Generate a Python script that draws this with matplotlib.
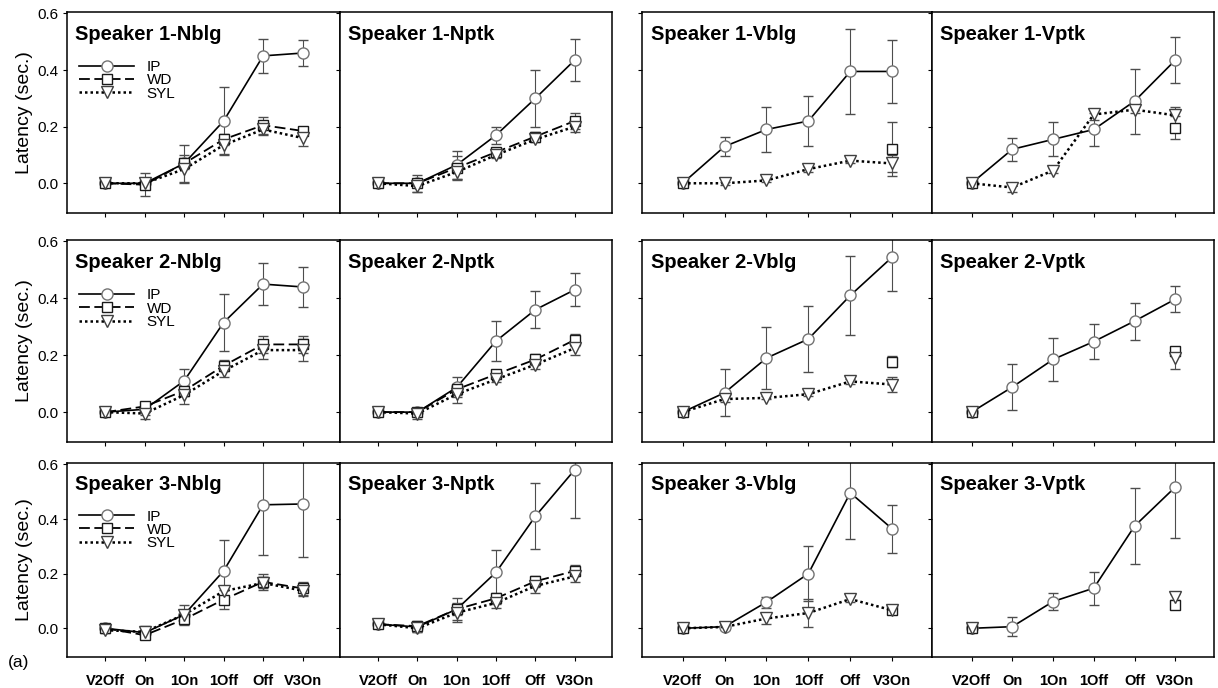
import numpy as np
import matplotlib
matplotlib.use("Agg")
import matplotlib.pyplot as plt
from matplotlib.lines import Line2D

plt.rcParams['font.family'] = ['Liberation Sans', 'DejaVu Sans']

nan = np.nan
categories = ["V2Off", "On", "1On", "1Off", "Off", "V3On"]
series_names = ["IP", "WD", "SYL"]
panel_titles = [
    "Speaker 1-Nblg", "Speaker 1-Nptk", "Speaker 1-Vblg", "Speaker 1-Vptk",
    "Speaker 2-Nblg", "Speaker 2-Nptk", "Speaker 2-Vblg", "Speaker 2-Vptk",
    "Speaker 3-Nblg", "Speaker 3-Nptk", "Speaker 3-Vblg", "Speaker 3-Vptk",
]
y_ticks = [0.0, 0.2, 0.4, 0.6]

ip_mean = [
    [0.0, 0.0, 0.07, 0.22, 0.45, 0.46],
    [0.0, 0.0, 0.065, 0.17, 0.30, 0.435],
    [0.0, 0.13, 0.19, 0.22, 0.395, 0.395],
    [0.0, 0.12, 0.155, 0.19, 0.29, 0.435],
    [0.0, 0.01, 0.11, 0.315, 0.45, 0.44],
    [0.0, 0.0, 0.087, 0.25, 0.36, 0.43],
    [0.0, 0.068, 0.19, 0.257, 0.41, 0.545],
    [0.0, 0.088, 0.185, 0.248, 0.32, 0.397],
    [0.0, -0.016, 0.05, 0.21, 0.452, 0.455],
    [0.015, 0.005, 0.07, 0.205, 0.41, 0.58],
    [0.0, 0.006, 0.096, 0.2, 0.496, 0.364],
    [0.0, 0.006, 0.098, 0.147, 0.374, 0.517],
]
ip_err = [
    [0.005, 0.01, 0.065, 0.12, 0.06, 0.045],
    [0.005, 0.01, 0.05, 0.03, 0.10, 0.075],
    [0.005, 0.035, 0.08, 0.09, 0.15, 0.11],
    [0.005, 0.04, 0.06, 0.06, 0.115, 0.08],
    [0.005, 0.02, 0.04, 0.10, 0.075, 0.07],
    [0.005, 0.01, 0.035, 0.07, 0.065, 0.058],
    [0.005, 0.083, 0.11, 0.115, 0.14, 0.12],
    [0.005, 0.08, 0.075, 0.06, 0.065, 0.045],
    [0.005, 0.01, 0.035, 0.115, 0.185, 0.195],
    [0.005, 0.01, 0.04, 0.08, 0.12, 0.175],
    [0.005, 0.01, 0.02, 0.10, 0.17, 0.088],
    [0.005, 0.035, 0.03, 0.06, 0.14, 0.185],
]
wd_mean = [
    [0.0, -0.005, 0.07, 0.155, 0.205, 0.185],
    [0.0, 0.0, 0.055, 0.11, 0.165, 0.22],
    [0.0, nan, nan, nan, nan, 0.12],
    [0.0, nan, nan, nan, nan, 0.196],
    [0.0, 0.02, 0.075, 0.163, 0.238, 0.238],
    [0.0, 0.0, 0.08, 0.133, 0.185, 0.254],
    [0.0, nan, nan, nan, nan, 0.177],
    [0.0, nan, nan, nan, nan, 0.214],
    [0.0, -0.025, 0.033, 0.105, 0.17, 0.146],
    [0.015, 0.008, 0.07, 0.11, 0.172, 0.21],
    [0.0, nan, nan, nan, nan, 0.066],
    [0.0, nan, nan, nan, nan, 0.087],
]
wd_err = [
    [0.005, 0.04, 0.02, 0.02, 0.03, 0.015],
    [0.005, 0.03, 0.04, 0.01, 0.015, 0.03],
    [0.005, nan, nan, nan, nan, 0.095],
    [0.005, nan, nan, nan, nan, 0.04],
    [0.005, 0.015, 0.02, 0.02, 0.03, 0.03],
    [0.005, 0.015, 0.02, 0.015, 0.02, 0.02],
    [0.005, nan, nan, nan, nan, 0.02],
    [0.005, nan, nan, nan, nan, 0.015],
    [0.01, 0.01, 0.02, 0.035, 0.03, 0.025],
    [0.005, 0.02, 0.02, 0.02, 0.02, 0.02],
    [0.005, nan, nan, nan, nan, 0.005],
    [0.005, nan, nan, nan, nan, 0.01],
]
syl_mean = [
    [0.0, 0.0, 0.05, 0.135, 0.19, 0.16],
    [0.0, -0.01, 0.04, 0.10, 0.155, 0.20],
    [0.0, 0.0, 0.01, 0.05, 0.08, 0.07],
    [0.0, -0.015, 0.045, 0.243, 0.26, 0.24],
    [0.0, -0.005, 0.06, 0.145, 0.218, 0.218],
    [0.0, -0.005, 0.063, 0.115, 0.167, 0.225],
    [0.0, 0.046, 0.05, 0.063, 0.108, 0.097],
    [0.0, nan, nan, nan, nan, 0.19],
    [-0.007, -0.013, 0.05, 0.136, 0.166, 0.138],
    [0.015, 0.0, 0.057, 0.093, 0.155, 0.19],
    [0.0, 0.005, 0.036, 0.056, 0.107, 0.066],
    [0.0, nan, nan, nan, nan, 0.114],
]
syl_err = [
    [0.005, 0.01, 0.05, 0.03, 0.02, 0.03],
    [0.005, 0.02, 0.03, 0.01, 0.01, 0.02],
    [0.005, 0.005, 0.005, 0.01, 0.01, 0.03],
    [0.005, 0.015, 0.01, 0.02, 0.01, 0.03],
    [0.005, 0.02, 0.03, 0.02, 0.03, 0.04],
    [0.005, 0.02, 0.03, 0.01, 0.015, 0.025],
    [0.005, 0.01, 0.005, 0.005, 0.01, 0.025],
    [0.005, nan, nan, nan, nan, 0.04],
    [0.01, 0.02, 0.015, 0.02, 0.02, 0.02],
    [0.005, 0.015, 0.035, 0.02, 0.025, 0.02],
    [0.005, 0.01, 0.02, 0.05, 0.01, 0.005],
    [0.005, nan, nan, nan, nan, 0.01],
]

W, H = 1218, 688
fig = plt.figure(figsize=(W / 100, H / 100), dpi=100)

col_px = [(67, 340), (340, 612), (642, 932), (932, 1214)]
row_px = [(12, 213), (240, 442), (463, 657)]

styles = {
    "IP": dict(color="black", linestyle="-", lw=1.2, marker="o", ms=8,
               mfc="white", mec="0.45", mew=1.0),
    "WD": dict(color="black", linestyle=(0, (6, 2.5)), lw=1.3, marker="s", ms=7,
               mfc="white", mec="0.1", mew=1.0),
    "SYL": dict(color="black", linestyle=(0, (1, 1.2)), lw=1.8, marker="v", ms=8,
                mfc="white", mec="0.25", mew=1.0),
}
data = {
    "IP": (ip_mean, ip_err),
    "WD": (wd_mean, wd_err),
    "SYL": (syl_mean, syl_err),
}

x = np.arange(len(categories))
for r in range(3):
    for c in range(4):
        i = r * 4 + c
        l, rt = col_px[c]
        t, b = row_px[r]
        ax = fig.add_axes([l / W, 1 - b / H, (rt - l) / W, (b - t) / H])
        for name in series_names:
            mean, err = data[name]
            st = styles[name]
            ax.errorbar(x, mean[i], yerr=err[i], ecolor="0.3", elinewidth=0.8,
                        capsize=3.5, capthick=1.0, **st)
        ax.set_xlim(-0.97, 5.95)
        ax.set_ylim(-0.105, 0.605)
        ax.set_xticks(x)
        ax.set_yticks(y_ticks)
        if r == 2:
            ax.set_xticklabels(categories, fontsize=10.5, fontweight="bold")
        else:
            ax.set_xticklabels([])
        if c == 0:
            ax.set_yticklabels([f"{v:.1f}" for v in y_ticks], fontsize=11)
            ax.set_ylabel("Latency (sec.)", fontsize=14)
            ax.yaxis.set_label_coords(-0.125, 0.5)
        else:
            ax.set_yticklabels([])
        ax.tick_params(axis="x", direction="out", length=3, width=0.8, pad=9)
        ax.tick_params(axis="y", direction="out", length=3, width=0.8, pad=3)
        for sp in ax.spines.values():
            sp.set_linewidth(1.1)
            sp.set_color("black")
        ax.text(0.03, 0.89, panel_titles[i], transform=ax.transAxes,
                fontsize=14.5, fontweight="bold", va="center", ha="left")
        if c == 0:
            handles = [Line2D([], [], **styles[n]) for n in series_names]
            ax.legend(handles, series_names, loc="upper left",
                      bbox_to_anchor=(0.045, 0.76), frameon=False,
                      fontsize=11, handlelength=3.6, handletextpad=0.8,
                      labelspacing=-0.05, borderpad=0, borderaxespad=0,
                      numpoints=1)

fig.text(8 / W, 1 - 663 / H, "(a)", fontsize=12.5, ha="left", va="center")

fig.savefig("out.png", dpi=100)
